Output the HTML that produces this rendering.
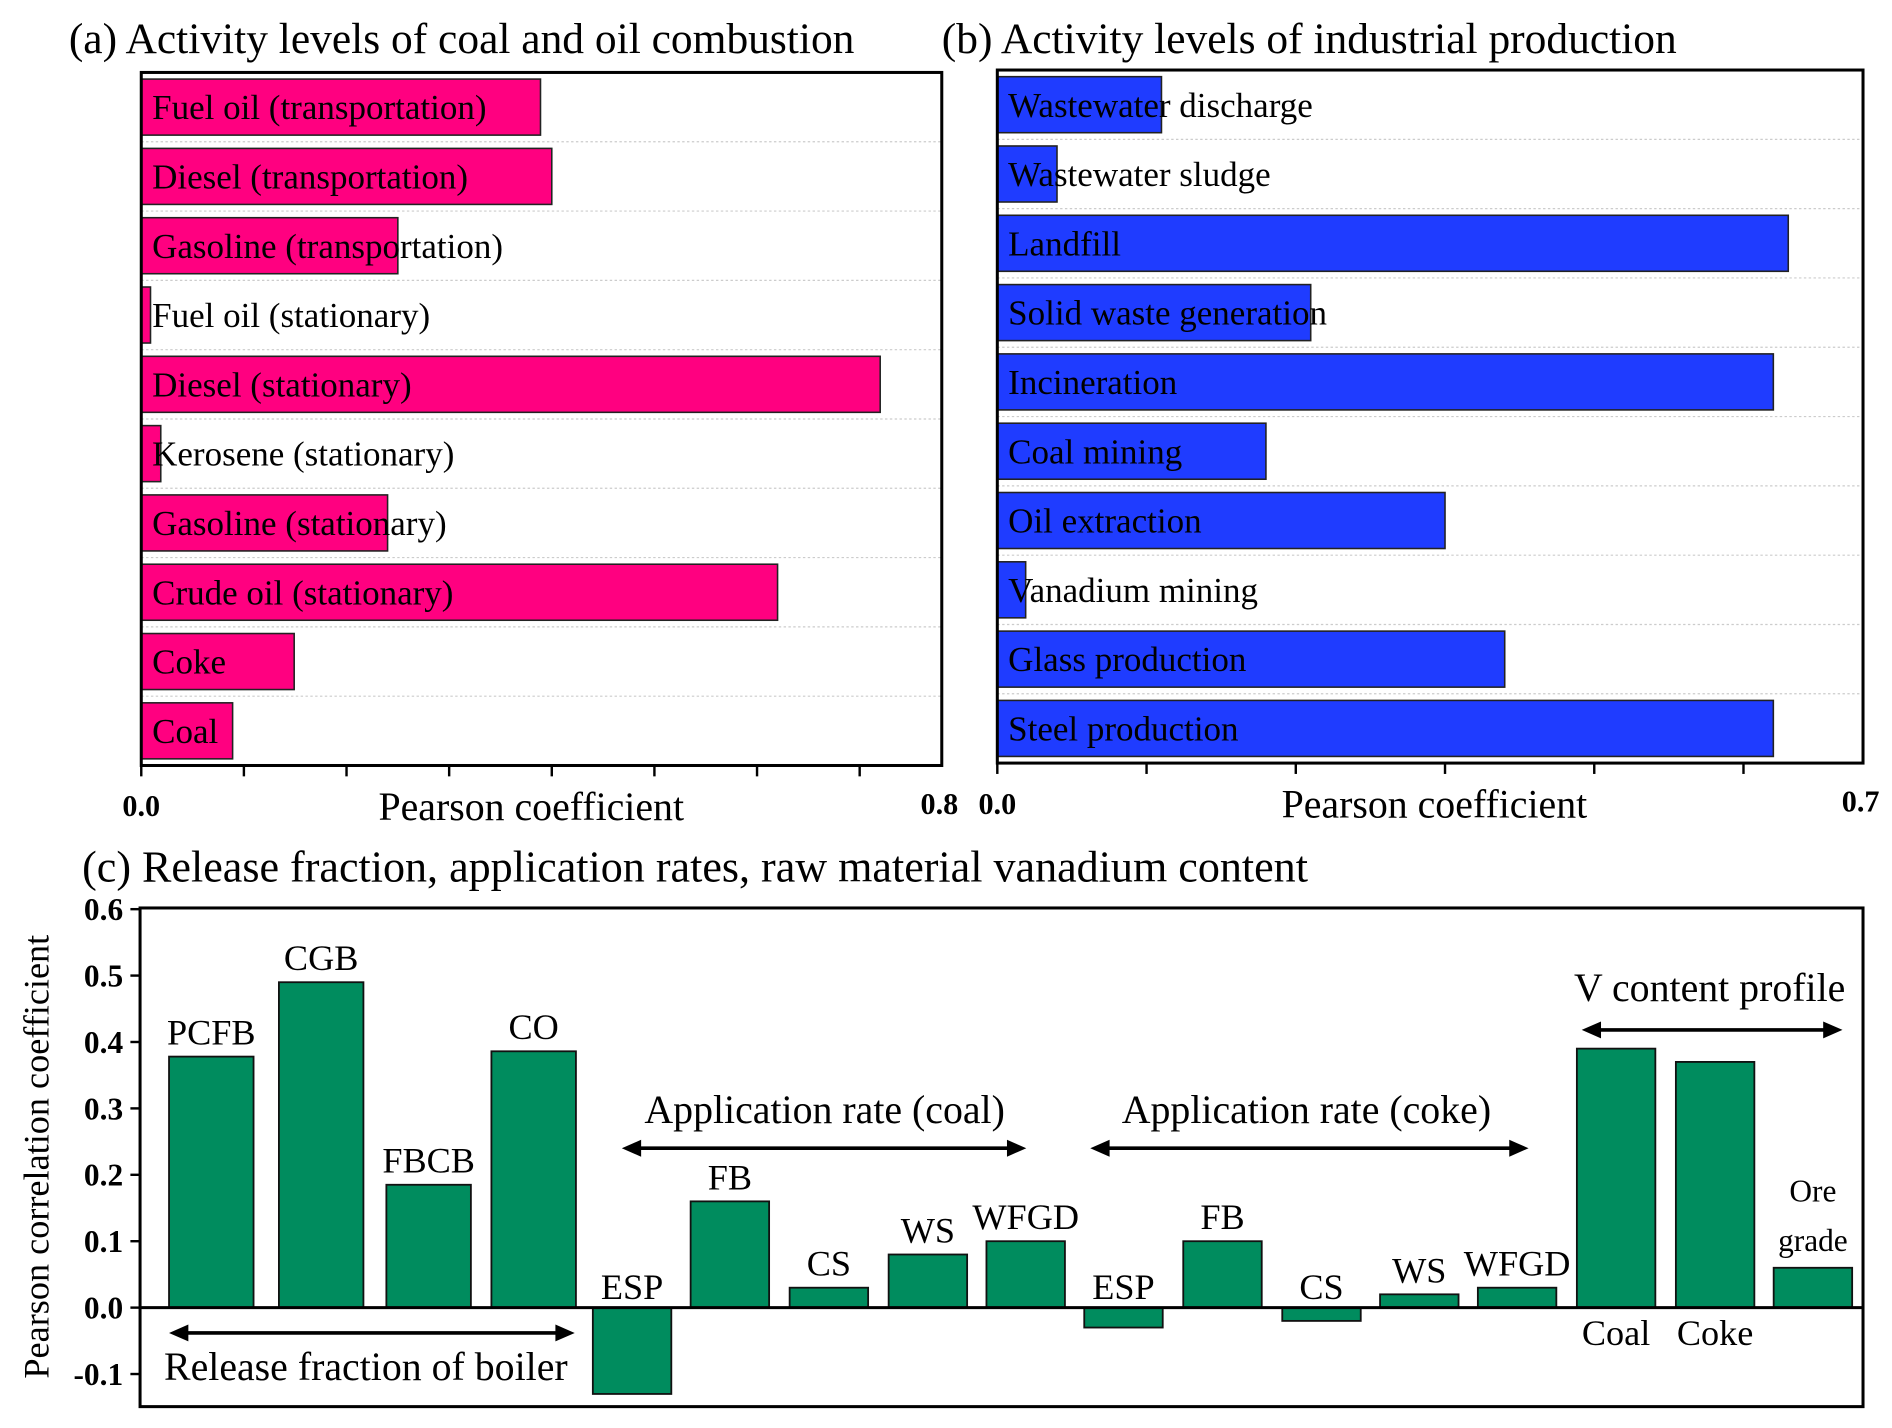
<!DOCTYPE html>
<html><head><meta charset="utf-8"><style>
html,body{margin:0;padding:0;background:#fff}
svg{display:block}
text{font-family:"Liberation Serif",serif;fill:#000}
</style></head><body>
<svg id="svg" width="1892" height="1428" viewBox="0 0 1567 1182.7" xmlns="http://www.w3.org/2000/svg"></svg>
<script>
// Panel A data
const aCats = ["Fuel oil (transportation)","Diesel (transportation)","Gasoline (transportation)","Fuel oil (stationary)","Diesel (stationary)","Kerosene (stationary)","Gasoline (stationary)","Crude oil (stationary)","Coke","Coal"];
const aVals = [0.389,0.40,0.25,0.009,0.72,0.019,0.24,0.62,0.149,0.089];
// Panel B data
const bCats = ["Wastewater discharge","Wastewater sludge","Landfill","Solid waste generation","Incineration","Coal mining","Oil extraction","Vanadium mining","Glass production","Steel production"];
const bVals = [0.110,0.040,0.530,0.210,0.520,0.180,0.300,0.019,0.340,0.520];
// Panel C data
const cCats = ["PCFB","CGB","FBCB","CO","ESP","FB","CS","WS","WFGD","ESP","FB","CS","WS","WFGD","Coal","Coke","Ore grade"];
const cVals = [0.378,0.49,0.185,0.386,-0.13,0.16,0.03,0.08,0.10,-0.03,0.10,-0.02,0.02,0.03,0.39,0.37,0.06];
const cTicks = ["-0.1","0.0","0.1","0.2","0.3","0.4","0.5","0.6"];

const NS="http://www.w3.org/2000/svg";
const svg=document.getElementById('svg');
function mk(tag,attrs,parent){const e=document.createElementNS(NS,tag);for(const k in attrs)e.setAttribute(k,attrs[k]);(parent||svg).appendChild(e);return e;}
function txt(s,attrs,parent){const e=mk('text',attrs,parent);e.textContent=s;return e;}

function hPanel(opts){
  const {x0,x1,y0,y1,unit,cats,vals,color,ticks,title,tx,name}=opts;
  const g=mk('g',{});
  
  
  const t=txt(title,{x:tx,y:44,'font-size':36},g);
  
  
  const xs=v=>x0+v*unit;
  const pitch=(y1-y0)/cats.length;
  for(let i=1;i<cats.length;i++){
    const ln=mk('line',{x1:x0,x2:x1,y1:y0+i*pitch,y2:y0+i*pitch,stroke:'#ccc','stroke-width':1,'stroke-dasharray':'2,2'},g);
    
    
  }
  cats.forEach((c,i)=>{
    const yt=y0+i*pitch+5.5, h=pitch-11;
    const r=mk('rect',{x:x0,y:yt,width:Math.max(xs(vals[i])-x0,0),height:h,fill:color,stroke:'#222','stroke-width':1.3},g);
    
    
    const l=txt(c,{x:x0+9,y:yt+h/2+10,'font-size':29},g);
    
    
  });
  const fr=mk('rect',{x:x0,y:y0,width:x1-x0,height:y1-y0,fill:'none',stroke:'#000','stroke-width':2.5},g);
  
  
  for(let k=0;k<ticks;k++){
    const tk=mk('line',{x1:xs(k*0.1),x2:xs(k*0.1),y1:y1,y2:y1+9,stroke:'#000','stroke-width':2},g);
    
    
  }
  const l0=txt('0.0',{x:x0,y:y1+42,'font-size':25,'font-weight':'bold','text-anchor':'middle'},g);
  
  
  const l1=txt(opts.maxLabel,{x:x1-2,y:y1+40,'font-size':25,'font-weight':'bold','text-anchor':'middle'},g);
  
  
  const xt=txt('Pearson coefficient',{x:opts.axx,y:y1+45,'font-size':33,'text-anchor':'middle'},g);
  
  
}
hPanel({x0:117,x1:780,y0:60,y1:634,unit:850,cats:aCats,vals:aVals,color:'#ff0080',ticks:8,title:'(a) Activity levels of coal and oil combustion',tx:57,name:'panel-a',maxLabel:'0.8',axx:440});
hPanel({x0:826,x1:1543,y0:58,y1:632,unit:1236,cats:bCats,vals:bVals,color:'#1f3cff',ticks:6,title:'(b) Activity levels of industrial production',tx:780,name:'panel-b',maxLabel:'0.7',axx:1188});

// Panel C
const gc=mk('g',{});


const ct=txt('(c) Release fraction, application rates, raw material vanadium content',{x:68,y:730,'font-size':36.5},gc);


const cx0=116,cx1=1543,cyTop=752,cyBot=1165;
const ys=v=>1083-v*550;
const barL=[140,231,320,407,491,572,654,736,817,898,980,1062,1143,1224,1306,1388,1469];
cTicks.forEach(s=>{
  const v=parseFloat(s),y=ys(v);
  const tk=mk('line',{x1:cx0-8,x2:cx0,y1:y,y2:y,stroke:'#000','stroke-width':2},gc);
  
  
  const l=txt(s,{x:cx0-14,y:y+9,'font-size':26,'font-weight':'bold','text-anchor':'end'},gc);
  
  
});
const yt=txt('Pearson correlation coefficient',{x:0,y:0,'font-size':30,'text-anchor':'middle',transform:'translate(40,958) rotate(-90)'},gc);


cCats.forEach((c,i)=>{
  const v=cVals[i],x=barL[i],w=barL[i]>=491?65:70;
  const y=Math.min(ys(v),ys(0)),h=Math.abs(ys(v)-ys(0));
  const r=mk('rect',{x:x,y:y,width:w,height:h,fill:'#008c5e',stroke:'#111','stroke-width':1.5},gc);
  
  
  let lx=x+w/2, ly;
  if(c==='Coal'||c==='Coke'){ly=1114;}
  else if(v<0){ly=1076;}
  else ly=ys(v)-10;
  if(c==='Ore grade'){
    const a=txt('Ore',{x:lx,y:995,'font-size':26,'text-anchor':'middle'},gc);
    
    
    const b=txt('grade',{x:lx,y:1036,'font-size':26,'text-anchor':'middle'},gc);
    
    
  } else {
    const l=txt(c,{x:lx,y:ly,'font-size':30,'text-anchor':'middle'},gc);
    
    
  }
});
const zl=mk('line',{x1:cx0,x2:cx1,y1:ys(0),y2:ys(0),stroke:'#000','stroke-width':2.5},gc);


const cf=mk('rect',{x:cx0,y:cyTop,width:cx1-cx0,height:cyBot-cyTop,fill:'none',stroke:'#000','stroke-width':2.5},gc);


function arrow(x1,x2,y,label,lx,ly,name){
  const ln=mk('line',{x1:x1+10,x2:x2-10,y1:y,y2:y,stroke:'#000','stroke-width':3},gc);
  
  
  const p=mk('path',{d:`M${x1},${y} l16,-7 l0,14 z M${x2},${y} l-16,-7 l0,14 z`,fill:'#000'},gc);
  
  
  const t=txt(label,{x:lx,y:ly,'font-size':33,'text-anchor':'middle'},gc);
  
  
}
arrow(140,476,1104,'Release fraction of boiler',303,1143,'release-fraction');
arrow(515,850,951,'Application rate (coal)',683,930,'application-coal');
arrow(903,1266,951,'Application rate (coke)',1082,930,'application-coke');
arrow(1310,1526,853,'V content profile',1416,829,'v-content');
</script>
</body></html>
